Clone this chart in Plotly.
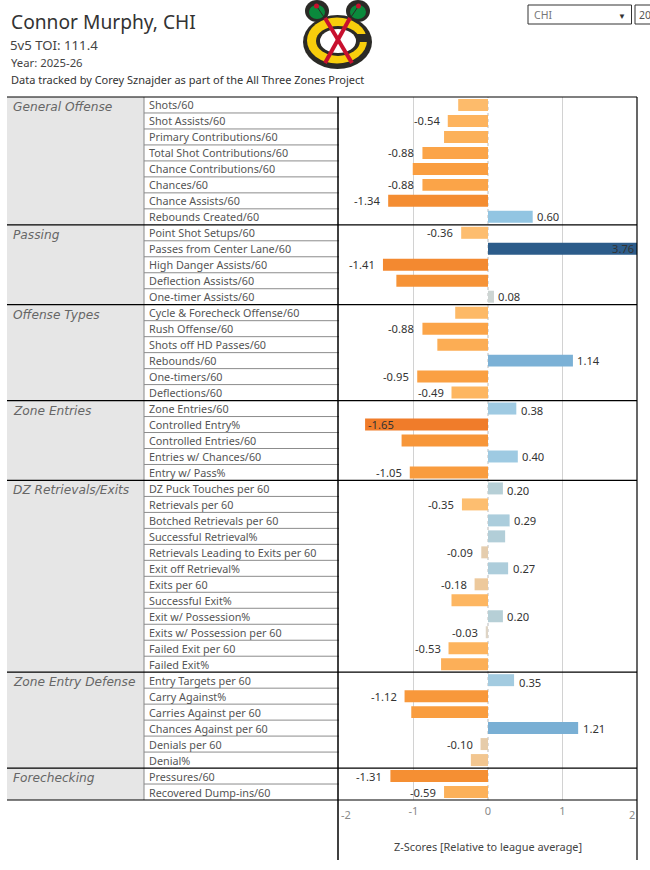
import plotly.graph_objects as go

groups = ["General Offense", "Passing", "Offense Types", "Zone Entries",
          "DZ Retrievals/Exits", "Zone Entry Defense", "Forechecking"]
group_metrics = [
    ["Shots/60", "Shot Assists/60", "Primary Contributions/60", "Total Shot Contributions/60",
     "Chance Contributions/60", "Chances/60", "Chance Assists/60", "Rebounds Created/60"],
    ["Point Shot Setups/60", "Passes from Center Lane/60", "High Danger Assists/60",
     "Deflection Assists/60", "One-timer Assists/60"],
    ["Cycle & Forecheck Offense/60", "Rush Offense/60", "Shots off HD Passes/60", "Rebounds/60",
     "One-timers/60", "Deflections/60"],
    ["Zone Entries/60", "Controlled Entry%", "Controlled Entries/60", "Entries w/ Chances/60",
     "Entry w/ Pass%"],
    ["DZ Puck Touches per 60", "Retrievals per 60", "Botched Retrievals per 60",
     "Successful Retrieval%", "Retrievals Leading to Exits per 60", "Exit off Retrieval%",
     "Exits per 60", "Successful Exit%", "Exit w/ Possession%", "Exits w/ Possession per 60",
     "Failed Exit per 60", "Failed Exit%"],
    ["Entry Targets per 60", "Carry Against%", "Carries Against per 60",
     "Chances Against per 60", "Denials per 60", "Denial%"],
    ["Pressures/60", "Recovered Dump-ins/60"],
]
zscores = [-0.40, -0.54, -0.59, -0.88, -1.01, -0.88, -1.34, 0.60,
           -0.36, 3.76, -1.41, -1.23, 0.08,
           -0.44, -0.88, -0.68, 1.14, -0.95, -0.49,
           0.38, -1.65, -1.16, 0.40, -1.05,
           0.20, -0.35, 0.29, 0.23, -0.09, 0.27, -0.18, -0.49, 0.20, -0.03, -0.53, -0.63,
           0.35, -1.12, -1.03, 1.21, -0.10, -0.23,
           -1.31, -0.59]
labelled = [0, 1, 0, 1, 0, 1, 1, 1,
            1, 1, 1, 0, 1,
            0, 1, 0, 1, 1, 1,
            1, 1, 0, 1, 1,
            1, 1, 1, 0, 1, 1, 1, 0, 1, 1, 1, 0,
            1, 1, 0, 1, 1, 0,
            1, 1]
tick_vals = [-1, 0, 1]
tick_text = ["-1", "0", "1"]
edge_ticks = ["-2", "2"]
axis_range = [-2, 2]

metrics = [m for g in group_metrics for m in g]

TOP, BOTTOM, LEFT, RIGHT = 97, 800, 339, 637
W, H = 650, 870
def X(px): return (px - LEFT) / (RIGHT - LEFT)
def Y(py): return 1 - (py - TOP) / (BOTTOM - TOP)

stops = [(-3.76, "#F07C2A"), (-1.65, "#F07C2A"), (-1.34, "#F48D32"), (-1.0, "#FA9E40"),
         (-0.5, "#FDB560"), (-0.35, "#FDBE70"), (-0.2, "#EFC898"), (-0.1, "#E6CCAA"),
         (0.0, "#DAD8D0"), (0.08, "#CDD5D3"), (0.2, "#B6CFD6"), (0.38, "#9FCAE2"),
         (0.6, "#92C5E2"), (1.14, "#7BB1D6"), (3.76, "#2C5C8A")]
colorscale = [[(v + 3.76) / 7.52, c] for v, c in stops]

fig = go.Figure(go.Bar(
    x=zscores, y=metrics, orientation="h", width=0.75,
    marker=dict(color=zscores, colorscale=colorscale, cmin=-3.76, cmax=3.76, line_width=0),
    hoverinfo="x+y",
))

shapes, ann = [], []
def line(x0, y0, x1, y1, color="#000", w=1, dash=None):
    shapes.append(dict(type="line", xref="paper", yref="paper", x0=X(x0), x1=X(x1), y0=Y(y0), y1=Y(y1),
                       line=dict(color=color, width=w, dash=dash)))
def rect(x0, y0, x1, y1, color):
    shapes.append(dict(type="rect", xref="paper", yref="paper", x0=X(x0), x1=X(x1), y0=Y(y0), y1=Y(y1),
                       fillcolor=color, line_width=0, layer="below"))
def oval(cx, cy, rx, ry, color):
    shapes.append(dict(type="circle", xref="paper", yref="paper", x0=X(cx-rx), x1=X(cx+rx), y0=Y(cy-ry), y1=Y(cy+ry),
                       fillcolor=color, line_width=0))
def text(px, py, s, size, color="#444", anchor="left", family="Noto Sans", style="normal"):
    ann.append(dict(xref="paper", yref="paper", x=X(px), y=Y(py), text=s, showarrow=False,
                    xanchor=anchor, yanchor="middle", borderpad=0,
                    font=dict(size=size, color=color, family=family, style=style)))

# gridlines through the x scale
for v in tick_vals:
    shapes.append(dict(type="line", xref="x", yref="paper", x0=v, x1=v, y0=0, y1=1, layer="below",
                       line=dict(color="#BBBBBB" if v == 0 else "#D2D2D2", width=1, dash="dot" if v == 0 else None)))

# table structure
row = 0
row_h = (BOTTOM - TOP) / len(metrics)
rect(7, TOP, 144, BOTTOM, "#E6E6E6")
line(144, TOP, 144, BOTTOM, "#888888")
for g, ms in zip(groups, group_metrics):
    y0 = TOP + row * row_h
    text(11.5, y0 + 10, g, 12.2, "#666666", family="DejaVu Sans", style="italic")
    for i, m in enumerate(ms):
        if i:
            line(144, y0 + i * row_h, LEFT, y0 + i * row_h, "#8C8C8C")
    row += len(ms)
for r in [0, 8, 13, 19, 24, 36, 42, 44]:
    line(7, TOP + r * row_h, RIGHT, TOP + r * row_h, "#000", 1.2)
line(LEFT - 1, TOP, LEFT - 1, 860, "#000", 1.5)
line(RIGHT, TOP, RIGHT, 860, "#000", 1.2)

# metric names
for m in metrics:
    ann.append(dict(xref="paper", yref="y", x=X(146.5), y=m, text=m, showarrow=False, xanchor="left",
                    yanchor="middle", font=dict(size=10.8, color="#555555", family="Noto Sans")))

# value labels
nudge = {19: 2, 24: 2, 36: 2}
for i, (v, m, show) in enumerate(zip(zscores, metrics, labelled)):
    if not show:
        continue
    s = f"{v:.2f}"
    if v > axis_range[1]:
        a = dict(x=axis_range[1], xanchor="right", xshift=-1)
    elif v < -1.5:
        a = dict(x=v, xanchor="left", xshift=1)
    elif v < 0:
        a = dict(x=v, xanchor="right", xshift=-6)
    else:
        a = dict(x=v, xanchor="left", xshift=2.5)
    ann.append(dict(xref="x", yref="y", y=m, text=s, showarrow=False, yanchor="middle",
                    yshift=-nudge.get(i, 0), font=dict(size=11.2, color="#333333", family="Noto Sans"), **a))

# edge ticks
text(340, 814, edge_ticks[0], 11, "#8A8A8A")
text(636, 814, edge_ticks[1], 11, "#8A8A8A", anchor="right")
text(488, 846, "Z-Scores [Relative to league average]", 10.9, "#444444", anchor="center")

# header
text(9.5, 22, "Connor Murphy, CHI", 19.2, "#333333")
text(8.5, 44.5, "5v5 TOI: 111.4", 13.2, "#444444")
text(9.5, 62.5, "Year: 2025-26", 11.3, "#444444")
text(9.5, 80, "Data tracked by Corey Sznajder as part of the All Three Zones Project", 11, "#333333")

# filter boxes
for x0, x1 in [(528, 631.5), (635, 656)]:
    shapes.append(dict(type="rect", xref="paper", yref="paper", x0=X(x0), x1=X(x1), y0=Y(5), y1=Y(24),
                       fillcolor="#FFFFFF", line=dict(color="#333333", width=1)))
text(532.5, 15, "CHI", 10.5, "#777777")
text(637.5, 15, "20", 10.5, "#555555")
text(622, 15, "▼", 8, "#333333", anchor="center")

# team logo
DARK, GREEN, GOLD, RED = "#2B2A26", "#0A8A3C", "#F8CE0C", "#C8102E"
oval(317, 11, 12, 11, DARK)
oval(358, 11, 12, 11, DARK)
oval(337.5, 42, 34.5, 27, DARK)
oval(317, 12, 8, 7, GREEN)
oval(358, 12, 8, 7, GREEN)
for a, b, c, d in [(316.5, 6, 326, 20), (358.5, 6, 349, 20)]:
    shapes.append(dict(type="line", xref="paper", yref="paper", x0=X(a), y0=Y(b), x1=X(c), y1=Y(d),
                       line=dict(color=DARK, width=1)))
oval(316.5, 6, 2.5, 2.5, RED)
oval(358.5, 6, 2.5, 2.5, RED)
oval(337, 40.5, 30, 23, GOLD)
shapes.append(dict(type="rect", xref="paper", yref="paper", x0=X(352), x1=X(369), y0=Y(34), y1=Y(42),
                   fillcolor=DARK, line_width=0))
oval(338, 41, 22, 15, DARK)
oval(338, 41, 18, 12, "#FFFFFF")
for a, b, c, d in [(325, 18, 352, 63), (350, 18, 325, 63)]:
    shapes.append(dict(type="line", xref="paper", yref="paper", x0=X(a), y0=Y(b), x1=X(c), y1=Y(d),
                       line=dict(color=RED, width=4)))

fig.update_layout(
    width=W, height=H, margin=dict(l=LEFT, r=W - RIGHT, t=TOP, b=H - BOTTOM),
    paper_bgcolor="#FFFFFF", plot_bgcolor="rgba(0,0,0,0)", showlegend=False,
    shapes=shapes, annotations=ann, bargap=0.25,
    font=dict(family="Noto Sans"),
    xaxis=dict(range=axis_range, tickvals=tick_vals, ticktext=tick_text, showgrid=False, zeroline=False,
               showline=False, ticks="", tickfont=dict(size=11, color="#8A8A8A"), fixedrange=True, ticklabelstandoff=3),
    yaxis=dict(type="category", categoryorder="array", categoryarray=metrics,
               range=[len(metrics) - 0.5, -0.5], showticklabels=False, showgrid=False, zeroline=False,
               ticks="", fixedrange=True),
)
fig.write_html("out.html", post_script="document.body.style.margin='0';", config={"displayModeBar": False})
